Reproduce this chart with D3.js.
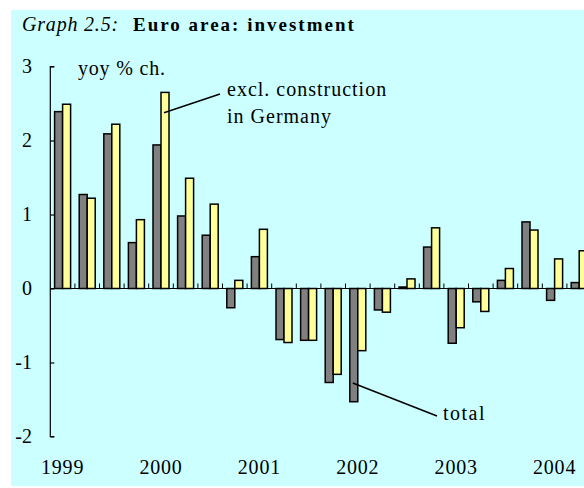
<!DOCTYPE html>
<html lang="en">

<head>
    <meta charset="UTF-8">
    <title>Euro area: investment</title>
    <script src="https://d3js.org/d3.v7.min.js"></script>
    <style>
        body { margin: 0; background: #fff; }
        svg { display: block; font-family: "Liberation Serif", "Times New Roman", serif; }
    </style>
</head>

<body>
    <svg id="chart" width="584" height="488"></svg>

    <script>
        // quarterly data, 1999Q1 - 2004Q2
        const quarters = ["1999Q1", "1999Q2", "1999Q3", "1999Q4",
            "2000Q1", "2000Q2", "2000Q3", "2000Q4",
            "2001Q1", "2001Q2", "2001Q3", "2001Q4",
            "2002Q1", "2002Q2", "2002Q3", "2002Q4",
            "2003Q1", "2003Q2", "2003Q3", "2003Q4",
            "2004Q1", "2004Q2"];
        const total = [2.39, 1.27, 2.09, 0.62, 1.94, 0.98, 0.72, -0.26,
            0.43, -0.69, -0.70, -1.27, -1.53, -0.29, 0.02, 0.56,
            -0.74, -0.18, 0.11, 0.90, -0.16, 0.08];
        const exclConstr = [2.49, 1.22, 2.22, 0.93, 2.65, 1.49, 1.14, 0.11,
            0.80, -0.73, -0.70, -1.16, -0.84, -0.32, 0.13, 0.82,
            -0.53, -0.31, 0.27, 0.79, 0.40, 0.51];
        const yearLabels = ["1999", "2000", "2001", "2002", "2003", "2004"];
        const yTicks = [-2, -1, 0, 1, 2, 3];

        function program() {
            const svg = d3.select("#chart");

            svg.append("rect")
                .attr("x", 11).attr("y", 10)
                .attr("width", 573).attr("height", 476)
                .attr("fill", "#ccffff");

            // title
            const title = svg.append("text")
                .attr("x", 22).attr("y", 31)
                .attr("font-size", 20);
            title.append("tspan")
                .attr("font-style", "italic")
                .attr("letter-spacing", 0.8)
                .text("Graph 2.5:");
            title.append("tspan")
                .attr("x", 133)
                .attr("font-weight", "bold")
                .attr("font-size", 19)
                .attr("letter-spacing", 2)
                .text("Euro area: investment");

            const bandW = 24.6;
            const x = d3.scaleBand()
                .domain(quarters)
                .range([50.3, 50.3 + bandW * quarters.length]);
            const xSub = d3.scaleBand()
                .domain(["total", "excl"])
                .range([(bandW - 16) / 2, (bandW + 16) / 2]);
            const y = d3.scaleLinear()
                .domain([-2, 3])
                .range([436.5, 66.5]);

            const rows = quarters.map((q, i) => ({ q: q, total: total[i], excl: exclConstr[i] }));

            // bars
            const groups = svg.append("g")
                .selectAll("g")
                .data(rows)
                .join("g")
                .attr("transform", d => `translate(${x(d.q)},0)`);

            groups.selectAll("rect")
                .data(d => [{ k: "total", v: d.total }, { k: "excl", v: d.excl }])
                .join("rect")
                .attr("x", d => xSub(d.k))
                .attr("width", xSub.bandwidth())
                .attr("y", d => y(Math.max(0, d.v)))
                .attr("height", d => Math.abs(y(d.v) - y(0)))
                .attr("fill", d => d.k === "total" ? "#808080" : "#ffff99")
                .attr("stroke", "black")
                .attr("stroke-width", 1.5);

            // y axis
            const yAxis = svg.append("g")
                .attr("transform", "translate(50.3,0)")
                .call(d3.axisRight(y).tickValues(yTicks).tickSize(4).tickFormat(""));
            yAxis.select(".domain").attr("d", `M4,${y(3)}H0V${y(-2)}H4`).attr("stroke-width", 1.2);
            yAxis.selectAll(".tick line").attr("stroke-width", 1.2);

            svg.append("g")
                .selectAll("text")
                .data(yTicks)
                .join("text")
                .attr("x", 32)
                .attr("y", d => y(d))
                .attr("dy", "0.34em")
                .attr("text-anchor", "end")
                .attr("font-size", 20)
                .text(d => d);

            // zero line with quarter ticks
            const x0 = x.range()[0], x1 = x.range()[1];
            svg.append("line")
                .attr("x1", x0).attr("x2", x1)
                .attr("y1", y(0)).attr("y2", y(0))
                .attr("stroke", "black").attr("stroke-width", 1.2);
            svg.append("g")
                .selectAll("line")
                .data(quarters.slice(1))
                .join("line")
                .attr("x1", d => x(d)).attr("x2", d => x(d))
                .attr("y1", y(0)).attr("y2", y(0) - 5)
                .attr("stroke", "black").attr("stroke-width", 1);

            // year labels under the first quarter
            svg.append("g")
                .selectAll("text")
                .data(yearLabels)
                .join("text")
                .attr("x", d => x(d + "Q1") + bandW / 2)
                .attr("y", 474)
                .attr("text-anchor", "middle")
                .attr("font-size", 20)
                .attr("letter-spacing", 0.8)
                .text(d => d);

            // annotations
            svg.append("text")
                .attr("x", 78).attr("y", 75)
                .attr("font-size", 20).attr("letter-spacing", 0.8)
                .text("yoy % ch.");

            const ann = svg.append("text")
                .attr("font-size", 20).attr("letter-spacing", 1);
            ann.append("tspan").attr("x", 227).attr("y", 96).text("excl. construction");
            ann.append("tspan").attr("x", 227).attr("y", 123).text("in Germany");
            svg.append("line")
                .attr("x1", 220).attr("y1", 94)
                .attr("x2", x("2000Q1") + xSub("excl") + 3).attr("y2", 112.7)
                .attr("stroke", "black").attr("stroke-width", 1.5);

            svg.append("text")
                .attr("x", 443).attr("y", 420)
                .attr("font-size", 20).attr("letter-spacing", 1.5)
                .text("total");
            svg.append("line")
                .attr("x1", 437).attr("y1", 416)
                .attr("x2", x("2002Q1") + xSub("total") + 3).attr("y2", 383)
                .attr("stroke", "black").attr("stroke-width", 1.5);
        }

        program();
    </script>
</body>

</html>
